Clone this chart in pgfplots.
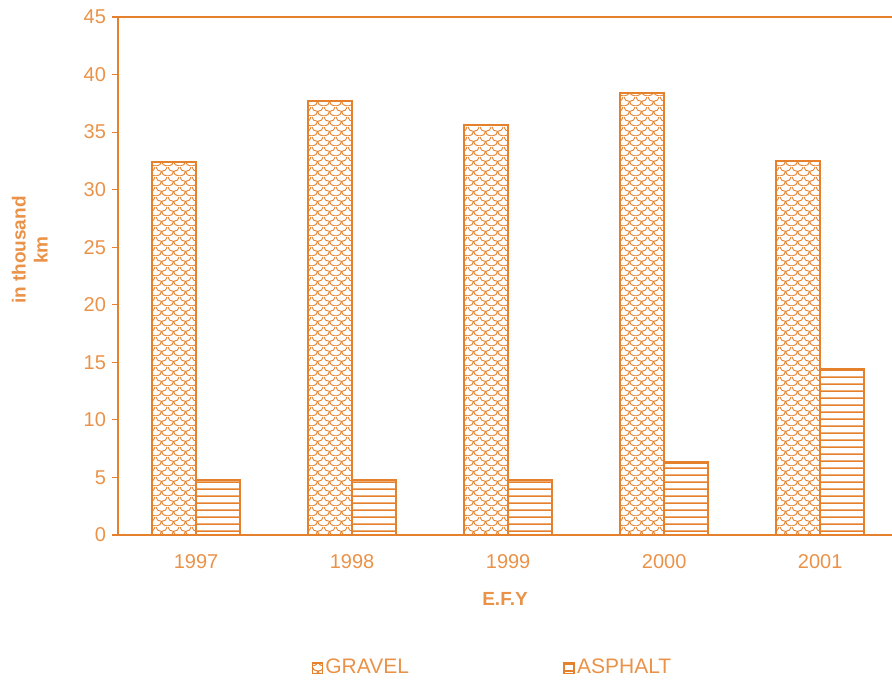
\documentclass[border=0pt]{standalone}
\usepackage{pgfplots}
\pgfplotsset{compat=1.18}
\usepackage{fontspec}
\setmainfont{Liberation Sans}
\usetikzlibrary{patterns.meta}
\definecolor{orl}{RGB}{229,128,45}
\definecolor{ort}{RGB}{234,146,72}
\tikzdeclarepattern{
  name=scales, type=uncolored,
  bounding box={(0,0) and (6pt,5pt)},
  tile size={(6pt,5pt)},
  code={
    \draw[line width=0.5pt] (0,5pt) arc[start angle=180,end angle=360,x radius=3pt,y radius=2.5pt];
    \draw[line width=0.5pt] (-3pt,2.5pt) arc[start angle=180,end angle=360,x radius=3pt,y radius=2.5pt];
    \draw[line width=0.5pt] (3pt,2.5pt) arc[start angle=180,end angle=360,x radius=3pt,y radius=2.5pt];
  }
}
\pgfdeclarepatternformonly{hlines}{\pgfpointorigin}{\pgfqpoint{200pt}{3.5pt}}{\pgfqpoint{200pt}{3.5pt}}{%
  \pgfpathrectangle{\pgfpointorigin}{\pgfqpoint{200pt}{0.9pt}}\pgfusepath{fill}}
\begin{document}
\begin{tikzpicture}
\begin{axis}[
  scale only axis,
  width=387pt, height=259pt,
  ybar=0pt, bar width=22pt,
  xmin=-0.5, xmax=4.46,
  ymin=0, ymax=45,
  ytick={0,5,...,45},
  xtick={0,1,2,3,4},
  xticklabels={1997,1998,1999,2000,2001},
  extra x ticks={0.5,1.5,2.5,3.5},
  extra x tick labels={},
  extra x tick style={major tick length=2.5pt, tick style={orl, line width=0.6pt}},
  major x tick style={draw=none},
  major y tick style={orl, line width=0.6pt},
  major tick length=3pt,
  tick align=outside,
  axis x line*=bottom, axis y line*=left,
  axis line style={orl, line width=0.8pt, -},
  ticklabel style={font=\fontsize{10}{11}\selectfont, text=ort},
  /pgf/number format/assume math mode=true,
  xticklabel style={yshift=-3pt},
  yticklabel style={xshift=0.5pt},
  xlabel={E.F.Y},
  xlabel style={font=\bfseries\fontsize{9.5}{11}\selectfont, text=ort, yshift=0.5pt},
  ylabel={in thousand\\km},
  ylabel style={font=\bfseries\fontsize{9.5}{11}\selectfont, text=ort, align=center,
    at={(axis description cs:-0.114,0.55)}, anchor=center},
  clip=false,
  legend columns=2,
  legend style={draw=none, fill=none, at={(axis description cs:0.484,-0.257)}, anchor=center,
    font=\fontsize{10.5}{12}\selectfont, text=ort, /tikz/every even column/.append style={column sep=76pt},
    inner sep=0pt, nodes={inner sep=1.2pt}},
  legend image code/.code={\draw[#1, line width=0.7pt] (0pt,-2.6pt) rectangle (5pt,2.6pt);},
  every axis plot/.append style={draw=orl, line width=1.2pt},
]
\addplot[pattern=scales, pattern color=orl] coordinates {(0,32.4) (1,37.7) (2,35.6) (3,38.4) (4,32.5)};
\addplot[pattern=hlines, pattern color=orl] coordinates {(0,4.8) (1,4.8) (2,4.8) (3,6.3) (4,14.4)};
\legend{GRAVEL,ASPHALT}
\draw[orl, line width=0.8pt] (axis description cs:0,1) -- (axis description cs:1,1);
\coordinate (bbA) at (axis description cs:-0.15245,1.03282);
\coordinate (bbB) at (axis description cs:1,-0.2915);
\end{axis}
\pgfresetboundingbox
\path (bbA) rectangle (bbB);
\end{tikzpicture}
\end{document}
